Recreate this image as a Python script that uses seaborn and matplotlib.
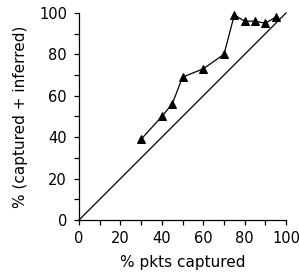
import numpy as np
import pandas as pd
import matplotlib
matplotlib.use("Agg")
import matplotlib.pyplot as plt
import seaborn as sns
from matplotlib.ticker import MultipleLocator

# --- DATA ---
pkts_captured = [30, 40, 45, 50, 60, 70, 75, 80, 85, 90, 95]
captured_inferred = [39, 50, 56, 69, 73, 80, 99, 96, 96, 95, 98]
diag = [0, 100]

sns.set_style("ticks")
plt.rcParams['font.family'] = ['DejaVu Sans']

df = pd.DataFrame({"x": pkts_captured, "y": captured_inferred})
df_diag = pd.DataFrame({"x": diag, "y": diag})

fig = plt.figure(figsize=(2.99, 2.80), dpi=100)
ax = fig.add_axes([0.264, 0.214, 0.693, 0.740])

sns.lineplot(data=df_diag, x="x", y="y", ax=ax, color="black", linewidth=0.9)
sns.lineplot(data=df, x="x", y="y", ax=ax, color="black", linewidth=0.9,
             marker="^", markersize=6, markeredgecolor="black", markerfacecolor="black")

ax.set_xlim(0, 100)
ax.set_ylim(0, 100)
ax.xaxis.set_major_locator(MultipleLocator(20))
ax.yaxis.set_major_locator(MultipleLocator(20))
ax.xaxis.set_minor_locator(MultipleLocator(10))
ax.yaxis.set_minor_locator(MultipleLocator(10))
ax.tick_params(which="both", direction="out", length=3.6, width=0.9, color="black",
               labelsize=10.5, labelcolor="black")
ax.tick_params(axis="x", which="major", pad=4)
ax.tick_params(axis="y", which="major", pad=5)
for s in ["left", "bottom"]:
    ax.spines[s].set_linewidth(0.9)
    ax.spines[s].set_color("black")
sns.despine(ax=ax)
for ln in ax.lines:
    ln.set_clip_on(False)

ax.set_xlabel("% pkts captured", fontsize=11, color="black", labelpad=7)
ax.set_ylabel("% (captured + inferred)", fontsize=11, color="black", labelpad=8)

fig.savefig("out.png", dpi=100)
